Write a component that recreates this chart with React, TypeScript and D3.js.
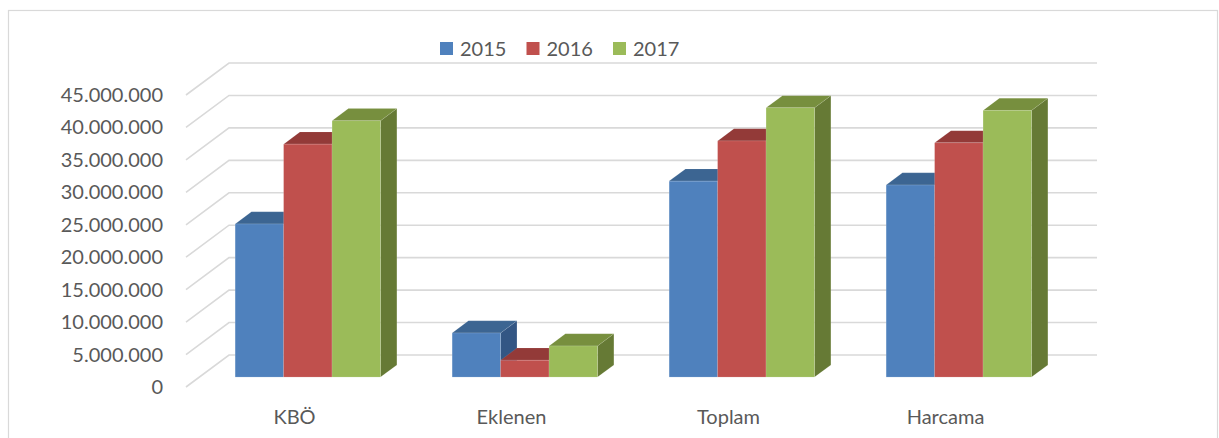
import { useEffect, useRef } from 'react'
import * as d3 from 'd3'

const categories = ['KBÖ', 'Eklenen', 'Toplam', 'Harcama']
const seriesNames = ['2015', '2016', '2017']
const values2015 = [23.6e6, 6.8e6, 30.2e6, 29.6e6]
const values2016 = [35.9e6, 2.6e6, 36.4e6, 36.1e6]
const values2017 = [39.5e6, 4.8e6, 41.5e6, 41.1e6]
const yTicks = [0, 5e6, 10e6, 15e6, 20e6, 25e6, 30e6, 35e6, 40e6, 45e6]

// front, top, side shades per series
const COLORS = [
  { front: '#4f81bd', top: '#3c6592', side: '#335684' },
  { front: '#c0504d', top: '#933a38', side: '#7e302e' },
  { front: '#9bbb59', top: '#778f3e', side: '#667a35' },
]

const fmt = (v: number) => (v === 0 ? '0' : d3.format(',')(v).replace(/,/g, '.'))

export default function App() {
  const svgRef = useRef<SVGSVGElement>(null)

  useEffect(() => {
    if (!svgRef.current) return
    const svg = d3.select(svgRef.current)
    svg.selectAll('*').remove()

    const W = 1219
    const H = 438
    svg.attr('width', W).attr('height', H)

    // 3D depth offsets (front plane -> back wall)
    const DX = 43
    const DY = -32
    const t0 = 0.31 // bar front depth
    const t1 = 0.69 // bar back depth

    const x0 = d3.scaleBand<string>().domain(categories).range([186, 1054])
      .paddingInner(0.33).paddingOuter(0.165)
    const x1 = d3.scaleBand<string>().domain(seriesNames).range([0, x0.bandwidth()])
    const y = d3.scaleLinear().domain([0, 45e6]).range([387, 95])

    const font = 'Lato, "Open Sans", sans-serif'

    // Frame
    svg.append('rect')
      .attr('x', 8.5).attr('y', 10.5).attr('width', 1209).attr('height', 450)
      .attr('fill', '#fff').attr('stroke', '#d9d9d9').attr('stroke-width', 1.2)

    // Gridlines: left wall diagonal + back wall
    const [xl, xr] = x0.range()
    yTicks.forEach(t => {
      const yf = y(t)
      svg.append('path')
        .attr('d', `M${xl},${yf} L${xl + DX},${yf + DY} L${xr + DX},${yf + DY}`)
        .attr('fill', 'none').attr('stroke', '#d9d9d9').attr('stroke-width', 1.6)
    })

    // Y labels
    svg.append('g').selectAll('text').data(yTicks).join('text')
      .attr('x', 163).attr('y', d => y(d)).attr('dy', '0.35em')
      .attr('text-anchor', 'end').attr('font-family', font).attr('font-size', 20)
      .attr('fill', '#595959').text(d => fmt(d))

    // Bars
    const allSeries = [values2015, values2016, values2017]
    const sx = t0 * DX
    const sy = t0 * DY
    const bdx = (t1 - t0) * DX
    const bdy = (t1 - t0) * DY
    categories.forEach((cat, ci) => {
      seriesNames.forEach((s, si) => {
        const v = allSeries[si][ci]
        const c = COLORS[si]
        const xa = (x0(cat) ?? 0) + (x1(s) ?? 0) + sx
        const xb = xa + x1.bandwidth()
        const yt = y(v) + sy
        const yb = y(0) + sy
        const g = svg.append('g')
        g.append('path')
          .attr('d', `M${xb},${yt} L${xb + bdx},${yt + bdy} L${xb + bdx},${yb + bdy} L${xb},${yb} Z`)
          .attr('fill', c.side).attr('stroke', 'rgba(255,255,255,0.15)').attr('stroke-width', 0.6)
        g.append('path')
          .attr('d', `M${xa},${yt} L${xa + bdx},${yt + bdy} L${xb + bdx},${yt + bdy} L${xb},${yt} Z`)
          .attr('fill', c.top).attr('stroke', 'rgba(255,255,255,0.15)').attr('stroke-width', 0.6)
        g.append('rect')
          .attr('x', xa).attr('y', yt).attr('width', xb - xa).attr('height', yb - yt)
          .attr('fill', c.front).attr('stroke', 'rgba(255,255,255,0.25)').attr('stroke-width', 0.6)
      })
    })

    // Category labels
    svg.append('g').selectAll('text').data(categories).join('text')
      .attr('x', d => (x0(d) ?? 0) + x0.bandwidth() / 2).attr('y', 424)
      .attr('text-anchor', 'middle').attr('font-family', font).attr('font-size', 20)
      .attr('fill', '#595959').text(d => d)

    // Legend
    const legend = svg.append('g').attr('transform', 'translate(440,42)')
    seriesNames.forEach((s, i) => {
      const lg = legend.append('g').attr('transform', `translate(${i * 86.5},0)`)
      lg.append('rect').attr('width', 13).attr('height', 13).attr('fill', COLORS[i].front)
      lg.append('text').attr('x', 20).attr('y', 14)
        .attr('font-family', font).attr('font-size', 20).attr('fill', '#595959').text(s)
    })
  }, [])

  return (
    <svg ref={svgRef} style={{ position: 'absolute', left: 0, top: 0, display: 'block' }} />
  )
}
